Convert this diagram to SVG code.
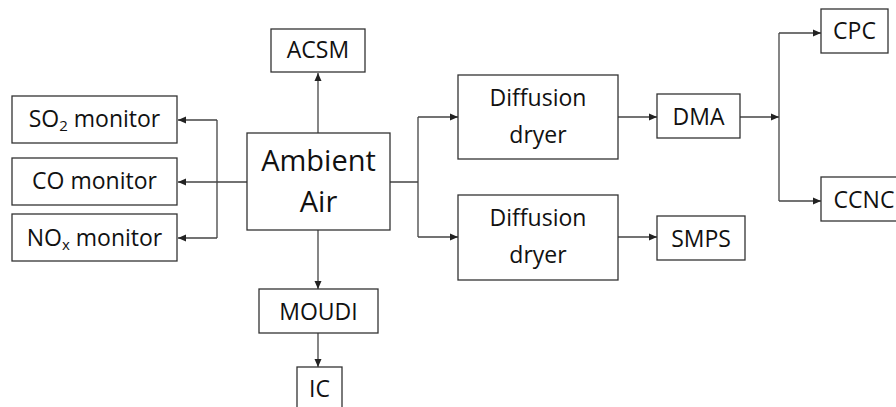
<svg xmlns="http://www.w3.org/2000/svg" width="896" height="407" viewBox="0 0 896 407">
<defs>
<marker id="ah" viewBox="0 0 8 8" refX="8" refY="4" markerWidth="8" markerHeight="8" markerUnits="userSpaceOnUse" orient="auto">
<path d="M0,0.5 L8,4 L0,7.5 Z" fill="#222"/>
</marker>
<style>
.box{fill:#fff;stroke:#333;stroke-width:1.3}
.t{font-family:"Open Sans","Noto Sans","Liberation Sans",sans-serif;font-size:23px;fill:#111;text-anchor:middle}
.big{font-size:29px}
.c{fill:none;stroke:#444;stroke-width:1.3}
.a{marker-end:url(#ah)}
.sub{font-size:15px}
</style>
</defs>
<rect width="896" height="407" fill="#fff"/>
<g id="connectors">
<path class="c" d="M247,182 H217 M217,120 V238"/>
<path class="c a" d="M217,120 H178"/>
<path class="c a" d="M217,182 H178"/>
<path class="c a" d="M217,238 H178"/>
<path class="c a" d="M318,133 V73"/>
<path class="c a" d="M318,230 V289"/>
<path class="c a" d="M318,333 V367"/>
<path class="c" d="M390,182 H418 M418,117 V237"/>
<path class="c a" d="M418,117 H458"/>
<path class="c a" d="M418,237 H458"/>
<path class="c a" d="M618,117 H657"/>
<path class="c a" d="M618,237 H657"/>
<path class="c a" d="M740,117 H779"/>
<path class="c" d="M779,33 V201"/>
<path class="c a" d="M779,33 H821"/>
<path class="c a" d="M779,201 H821"/>
</g>
<g id="so2"><rect class="box" x="12" y="96" width="165" height="47"/><text class="t" x="94.5" y="127">SO<tspan class="sub" dy="4">2</tspan><tspan dy="-4"> monitor</tspan></text></g>
<g id="co"><rect class="box" x="12" y="158" width="165" height="47"/><text class="t" x="94.5" y="189">CO monitor</text></g>
<g id="nox"><rect class="box" x="12" y="214" width="165" height="47"/><text class="t" x="94.5" y="246">NO<tspan class="sub" dy="4">x</tspan><tspan dy="-4"> monitor</tspan></text></g>
<g id="ambient"><rect class="box" x="247" y="133" width="143" height="97"/><text class="t big" x="318.5" y="171">Ambient</text><text class="t big" x="318.5" y="212">Air</text></g>
<g id="acsm"><rect class="box" x="271" y="29" width="94" height="43"/><text class="t" x="318" y="58">ACSM</text></g>
<g id="moudi"><rect class="box" x="259" y="289" width="119" height="44"/><text class="t" x="318.5" y="320">MOUDI</text></g>
<g id="ic"><rect class="box" x="297" y="367" width="45" height="50"/><text class="t" x="319.5" y="397">IC</text></g>
<g id="dryer1"><rect class="box" x="458" y="75" width="160" height="84"/><text class="t" x="538" y="106">Diffusion</text><text class="t" x="538" y="143">dryer</text></g>
<g id="dryer2"><rect class="box" x="458" y="195" width="160" height="85"/><text class="t" x="538" y="226">Diffusion</text><text class="t" x="538" y="263">dryer</text></g>
<g id="dma"><rect class="box" x="657" y="94" width="83" height="44"/><text class="t" x="698.5" y="125">DMA</text></g>
<g id="smps"><rect class="box" x="657" y="216" width="88" height="44"/><text class="t" x="701" y="247">SMPS</text></g>
<g id="cpc"><rect class="box" x="821" y="9" width="67" height="44"/><text class="t" x="854.5" y="39">CPC</text></g>
<g id="ccnc"><rect class="box" x="821" y="177" width="90" height="44"/><text class="t" x="864" y="208">CCNC</text></g>
</svg>
